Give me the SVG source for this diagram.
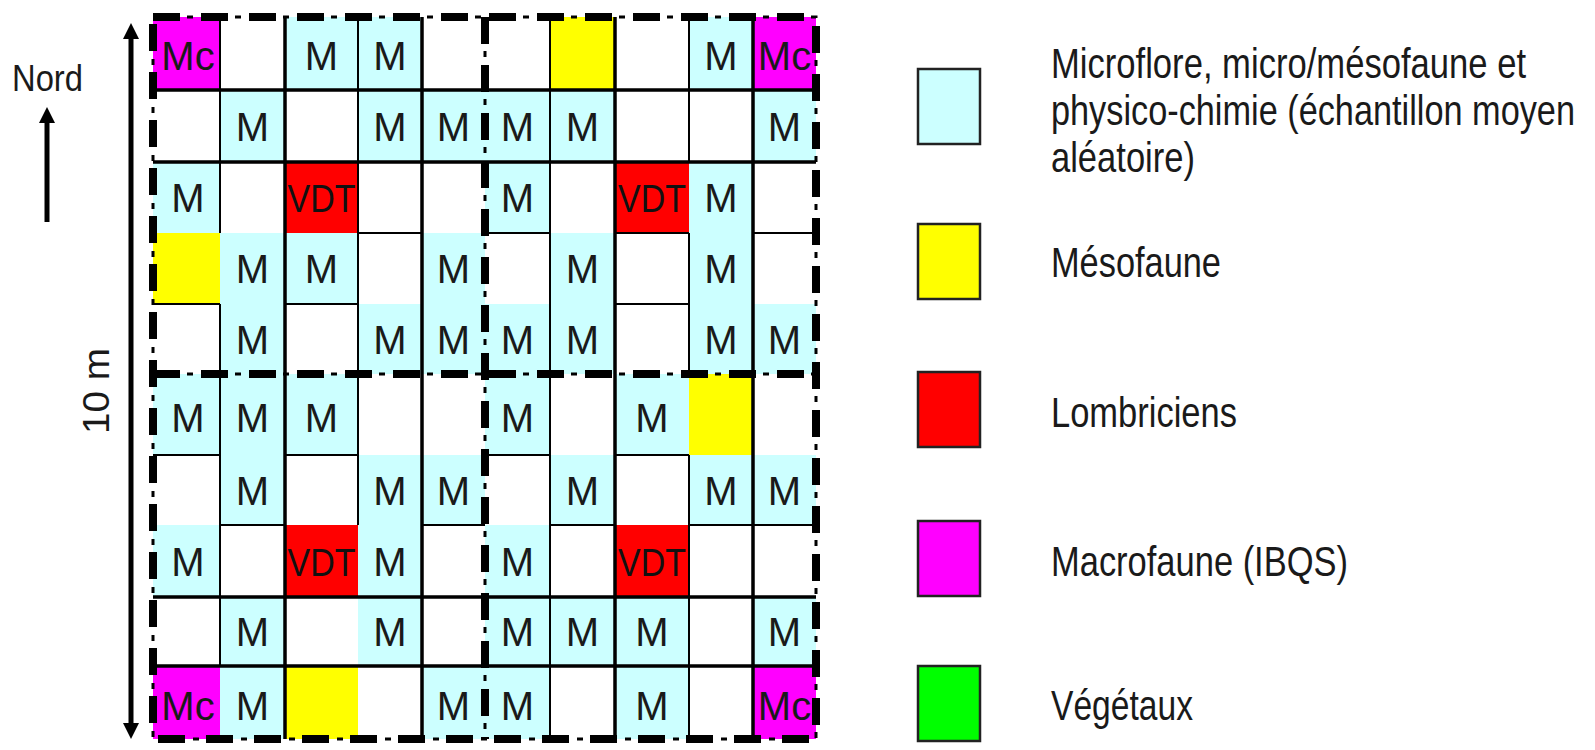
<svg xmlns="http://www.w3.org/2000/svg" width="1595" height="750" viewBox="0 0 1595 750">
  <style>
    .m { fill: #ccffff; }
    .y { fill: #ffff00; }
    .r { fill: #ff0000; }
    .p { fill: #ff00ff; }
    .g { fill: #00ff00; }
    .t { font-family: "Liberation Sans", Arial, sans-serif; font-size: 40px; fill: #1a1a1a; text-anchor: middle; }
    .v { font-family: "Liberation Sans", Arial, sans-serif; font-size: 38px; fill: #111; text-anchor: middle; }
    .thk { stroke: #000; stroke-width: 3.5; fill: none; }
    .thn { stroke: #000; stroke-width: 2; fill: none; }
    .dash { stroke: #000; stroke-width: 8; fill: none; stroke-dasharray: 27 21; }
    .dot { stroke: #000; stroke-width: 3; fill: none; stroke-dasharray: 6 42; stroke-dashoffset: -34; }
    .box { stroke: #222; stroke-width: 2.5; }
    .lg { font-family: "Liberation Sans", Arial, sans-serif; font-size: 34.5px; fill: #1a1a1a; }
    .lbl { font-family: "Liberation Sans", Arial, sans-serif; fill: #1a1a1a; }
    .arr { stroke: #000; stroke-width: 5; fill: none; }
  </style>
  <defs>
    <marker id="head" viewBox="0 0 16 16" refX="3" refY="8" markerWidth="16" markerHeight="16" markerUnits="userSpaceOnUse" orient="auto-start-reverse">
      <path d="M0,0 L16,8 L0,16 Z" fill="#000"/>
    </marker>
  </defs>

  <rect width="1595" height="750" fill="#fff"/>

  <!-- sampling plot: coloured cells (white cells are left blank) -->
  <g id="plot-cells">
    <!-- row 0 -->
    <g id="cell-r0c0"><rect class="p" x="153" y="17" width="67" height="73"/><text class="t" x="188" y="69.5">Mc</text></g>
    <g id="cell-r0c2"><rect class="m" x="285" y="17" width="73" height="73"/><text class="t" x="321.5" y="69.5">M</text></g>
    <g id="cell-r0c3"><rect class="m" x="358" y="17" width="64" height="73"/><text class="t" x="390" y="69.5">M</text></g>
    <g id="cell-r0c6"><rect class="y" x="550" y="17" width="65" height="73"/></g>
    <g id="cell-r0c8"><rect class="m" x="689" y="17" width="64" height="73"/><text class="t" x="721" y="69.5">M</text></g>
    <g id="cell-r0c9"><rect class="p" x="753" y="17" width="63" height="73"/><text class="t" x="784.5" y="69.5">Mc</text></g>
    <!-- row 1 -->
    <g id="cell-r1c1"><rect class="m" x="220" y="90" width="65" height="72"/><text class="t" x="252.5" y="140.5">M</text></g>
    <g id="cell-r1c3"><rect class="m" x="358" y="90" width="64" height="72"/><text class="t" x="390" y="140.5">M</text></g>
    <g id="cell-r1c4"><rect class="m" x="422" y="90" width="63" height="72"/><text class="t" x="453.5" y="140.5">M</text></g>
    <g id="cell-r1c5"><rect class="m" x="485" y="90" width="65" height="72"/><text class="t" x="517.5" y="140.5">M</text></g>
    <g id="cell-r1c6"><rect class="m" x="550" y="90" width="65" height="72"/><text class="t" x="582.5" y="140.5">M</text></g>
    <g id="cell-r1c9"><rect class="m" x="753" y="90" width="63" height="72"/><text class="t" x="784.5" y="140.5">M</text></g>
    <!-- row 2 -->
    <g id="cell-r2c0"><rect class="m" x="153" y="162" width="67" height="71"/><text class="t" x="188" y="212">M</text></g>
    <g id="cell-r2c2"><rect class="r" x="285" y="162" width="73" height="71"/><text class="v" x="321.5" y="212" textLength="68" lengthAdjust="spacingAndGlyphs">VDT</text></g>
    <g id="cell-r2c5"><rect class="m" x="485" y="162" width="65" height="71"/><text class="t" x="517.5" y="212">M</text></g>
    <g id="cell-r2c7"><rect class="r" x="615" y="162" width="74" height="71"/><text class="v" x="652" y="212" textLength="68" lengthAdjust="spacingAndGlyphs">VDT</text></g>
    <g id="cell-r2c8"><rect class="m" x="689" y="162" width="64" height="71"/><text class="t" x="721" y="212">M</text></g>
    <!-- row 3 -->
    <g id="cell-r3c0"><rect class="y" x="153" y="233" width="67" height="71"/></g>
    <g id="cell-r3c1"><rect class="m" x="220" y="233" width="65" height="71"/><text class="t" x="252.5" y="283">M</text></g>
    <g id="cell-r3c2"><rect class="m" x="285" y="233" width="73" height="71"/><text class="t" x="321.5" y="283">M</text></g>
    <g id="cell-r3c4"><rect class="m" x="422" y="233" width="63" height="71"/><text class="t" x="453.5" y="283">M</text></g>
    <g id="cell-r3c6"><rect class="m" x="550" y="233" width="65" height="71"/><text class="t" x="582.5" y="283">M</text></g>
    <g id="cell-r3c8"><rect class="m" x="689" y="233" width="64" height="71"/><text class="t" x="721" y="283">M</text></g>
    <!-- row 4 -->
    <g id="cell-r4c1"><rect class="m" x="220" y="304" width="65" height="70"/><text class="t" x="252.5" y="353.5">M</text></g>
    <g id="cell-r4c3"><rect class="m" x="358" y="304" width="64" height="70"/><text class="t" x="390" y="353.5">M</text></g>
    <g id="cell-r4c4"><rect class="m" x="422" y="304" width="63" height="70"/><text class="t" x="453.5" y="353.5">M</text></g>
    <g id="cell-r4c5"><rect class="m" x="485" y="304" width="65" height="70"/><text class="t" x="517.5" y="353.5">M</text></g>
    <g id="cell-r4c6"><rect class="m" x="550" y="304" width="65" height="70"/><text class="t" x="582.5" y="353.5">M</text></g>
    <g id="cell-r4c8"><rect class="m" x="689" y="304" width="64" height="70"/><text class="t" x="721" y="353.5">M</text></g>
    <g id="cell-r4c9"><rect class="m" x="753" y="304" width="63" height="70"/><text class="t" x="784.5" y="353.5">M</text></g>
    <!-- row 5 -->
    <g id="cell-r5c0"><rect class="m" x="153" y="374" width="67" height="81"/><text class="t" x="188" y="431.5">M</text></g>
    <g id="cell-r5c1"><rect class="m" x="220" y="374" width="65" height="81"/><text class="t" x="252.5" y="431.5">M</text></g>
    <g id="cell-r5c2"><rect class="m" x="285" y="374" width="73" height="81"/><text class="t" x="321.5" y="431.5">M</text></g>
    <g id="cell-r5c5"><rect class="m" x="485" y="374" width="65" height="81"/><text class="t" x="517.5" y="431.5">M</text></g>
    <g id="cell-r5c7"><rect class="m" x="615" y="374" width="74" height="81"/><text class="t" x="652" y="431.5">M</text></g>
    <g id="cell-r5c8"><rect class="y" x="689" y="374" width="64" height="81"/></g>
    <!-- row 6 -->
    <g id="cell-r6c1"><rect class="m" x="220" y="455" width="65" height="70"/><text class="t" x="252.5" y="504.5">M</text></g>
    <g id="cell-r6c3"><rect class="m" x="358" y="455" width="64" height="70"/><text class="t" x="390" y="504.5">M</text></g>
    <g id="cell-r6c4"><rect class="m" x="422" y="455" width="63" height="70"/><text class="t" x="453.5" y="504.5">M</text></g>
    <g id="cell-r6c6"><rect class="m" x="550" y="455" width="65" height="70"/><text class="t" x="582.5" y="504.5">M</text></g>
    <g id="cell-r6c8"><rect class="m" x="689" y="455" width="64" height="70"/><text class="t" x="721" y="504.5">M</text></g>
    <g id="cell-r6c9"><rect class="m" x="753" y="455" width="63" height="70"/><text class="t" x="784.5" y="504.5">M</text></g>
    <!-- row 7 -->
    <g id="cell-r7c0"><rect class="m" x="153" y="525" width="67" height="72"/><text class="t" x="188" y="575.5">M</text></g>
    <g id="cell-r7c2"><rect class="r" x="285" y="525" width="73" height="72"/><text class="v" x="321.5" y="575.5" textLength="68" lengthAdjust="spacingAndGlyphs">VDT</text></g>
    <g id="cell-r7c3"><rect class="m" x="358" y="525" width="64" height="72"/><text class="t" x="390" y="575.5">M</text></g>
    <g id="cell-r7c5"><rect class="m" x="485" y="525" width="65" height="72"/><text class="t" x="517.5" y="575.5">M</text></g>
    <g id="cell-r7c7"><rect class="r" x="615" y="525" width="74" height="72"/><text class="v" x="652" y="575.5" textLength="68" lengthAdjust="spacingAndGlyphs">VDT</text></g>
    <!-- row 8 -->
    <g id="cell-r8c1"><rect class="m" x="220" y="597" width="65" height="69"/><text class="t" x="252.5" y="646">M</text></g>
    <g id="cell-r8c3"><rect class="m" x="358" y="597" width="64" height="69"/><text class="t" x="390" y="646">M</text></g>
    <g id="cell-r8c5"><rect class="m" x="485" y="597" width="65" height="69"/><text class="t" x="517.5" y="646">M</text></g>
    <g id="cell-r8c6"><rect class="m" x="550" y="597" width="65" height="69"/><text class="t" x="582.5" y="646">M</text></g>
    <g id="cell-r8c7"><rect class="m" x="615" y="597" width="74" height="69"/><text class="t" x="652" y="646">M</text></g>
    <g id="cell-r8c9"><rect class="m" x="753" y="597" width="63" height="69"/><text class="t" x="784.5" y="646">M</text></g>
    <!-- row 9 -->
    <g id="cell-r9c0"><rect class="p" x="153" y="666" width="67" height="73"/><text class="t" x="188" y="719.5">Mc</text></g>
    <g id="cell-r9c1"><rect class="m" x="220" y="666" width="65" height="73"/><text class="t" x="252.5" y="719.5">M</text></g>
    <g id="cell-r9c2"><rect class="y" x="285" y="666" width="73" height="73"/></g>
    <g id="cell-r9c4"><rect class="m" x="422" y="666" width="63" height="73"/><text class="t" x="453.5" y="719.5">M</text></g>
    <g id="cell-r9c5"><rect class="m" x="485" y="666" width="65" height="73"/><text class="t" x="517.5" y="719.5">M</text></g>
    <g id="cell-r9c7"><rect class="m" x="615" y="666" width="74" height="73"/><text class="t" x="652" y="719.5">M</text></g>
    <g id="cell-r9c9"><rect class="p" x="753" y="666" width="63" height="73"/><text class="t" x="784.5" y="719.5">Mc</text></g>
  </g>

  <!-- cell borders -->
  <g id="grid-lines">
    <path class="thk" d="M285,17V739 M422,17V739 M615,17V739 M753,17V739 M153,90H816 M153,162H816 M153,597H816 M153,666H816"/>
    <path class="thn" d="M358,233H422 M485,233H550 M615,233H689 M753,233H816
                         M153,304H220 M285,304H358 M615,304H689
                         M153,455H220 M285,455H358 M485,455H550 M615,455H689
                         M220,525H285 M422,525H485 M550,525H615 M689,525H816
                         M220,17V233 M220,304V666
                         M358,17V525
                         M550,17V739
                         M689,17V162 M689,233V374 M689,455V739"/>
  </g>

  <!-- quarter plots (dashed frames) -->
  <g id="plot-frame">
    <path class="dash" d="M153,17H816V739H153Z M485,17V739 M153,374H816"/>
    <path class="dot" d="M153,17H816V739H153Z M485,17V739 M153,374H816"/>
  </g>

  <!-- north arrow and 10 m scale -->
  <g id="arrows">
    <line class="arr" x1="47" y1="222" x2="47" y2="120" marker-end="url(#head)"/>
    <line class="arr" x1="131" y1="36" x2="131" y2="726" marker-start="url(#head)" marker-end="url(#head)"/>
  </g>
  <g id="north-label"><text class="lbl" x="12" y="91" font-size="37" textLength="71" lengthAdjust="spacingAndGlyphs">Nord</text></g>
  <g id="scale-label"><text class="lbl" transform="translate(109,391) rotate(-90)" font-size="36" text-anchor="middle" textLength="86" lengthAdjust="spacingAndGlyphs">10 m</text></g>

  <!-- legend: swatches, then tall narrow labels (vertical stretch of 1.22) -->
  <g id="legend-micro">
    <rect class="box m" x="918" y="69" width="62" height="75"/>
    <g transform="scale(1,1.22)">
      <text class="lg" x="1051" y="63.93" textLength="475" lengthAdjust="spacingAndGlyphs">Microflore, micro/mésofaune et</text>
      <text class="lg" x="1051" y="102.46" textLength="524" lengthAdjust="spacingAndGlyphs">physico-chimie (échantillon moyen</text>
      <text class="lg" x="1051" y="140.98" textLength="144" lengthAdjust="spacingAndGlyphs">aléatoire)</text>
    </g>
  </g>
  <g id="legend-meso">
    <rect class="box y" x="918" y="224" width="62" height="75"/>
    <text class="lg" transform="scale(1,1.22)" x="1051" y="227.05" textLength="170" lengthAdjust="spacingAndGlyphs">Mésofaune</text>
  </g>
  <g id="legend-lombric">
    <rect class="box r" x="918" y="372" width="62" height="75"/>
    <text class="lg" transform="scale(1,1.22)" x="1051" y="350" textLength="186" lengthAdjust="spacingAndGlyphs">Lombriciens</text>
  </g>
  <g id="legend-macro">
    <rect class="box p" x="918" y="521" width="62" height="75"/>
    <text class="lg" transform="scale(1,1.22)" x="1051" y="472.13" textLength="297" lengthAdjust="spacingAndGlyphs">Macrofaune (IBQS)</text>
  </g>
  <g id="legend-veget">
    <rect class="box g" x="918" y="666" width="62" height="75"/>
    <text class="lg" transform="scale(1,1.22)" x="1051" y="590.16" textLength="142" lengthAdjust="spacingAndGlyphs">Végétaux</text>
  </g>
</svg>
